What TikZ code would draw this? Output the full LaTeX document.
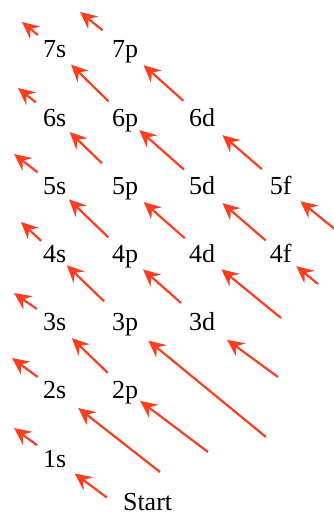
\documentclass[tikz,border=0pt]{standalone}
\usepackage{fontspec}
\setmainfont{Liberation Serif}
\usetikzlibrary{arrows.meta}
\definecolor{arrred}{RGB}{252,62,32}
\begin{document}
\begin{tikzpicture}[x=1pt,y=-1pt,
  lab/.style={inner sep=0pt, text height=17.6pt, text depth=0pt, font=\fontsize{26}{30}\selectfont},
  arr/.style={draw=arrred, line width=2.2pt, -{Stealth[length=17pt,width=16pt,inset=6pt]}}]
\useasboundingbox (0,0) rectangle (334,516);
% labels
\node[lab] (n7s) at (54.6,48.5) {7s};
\node[lab] (n7p) at (125,48.5) {7p};
\node[lab] (n6s) at (54.6,117.5) {6s};
\node[lab] (n6p) at (125,117.5) {6p};
\node[lab] (n6d) at (202,117.5) {6d};
\node[lab] (n5s) at (54.6,185.5) {5s};
\node[lab] (n5p) at (125,185.5) {5p};
\node[lab] (n5d) at (202,185.5) {5d};
\node[lab] (n5f) at (280.8,185.5) {5f};
\node[lab] (n4s) at (54.6,253.5) {4s};
\node[lab] (n4p) at (125,253.5) {4p};
\node[lab] (n4d) at (202,253.5) {4d};
\node[lab] (n4f) at (280.8,253.5) {4f};
\node[lab] (n3s) at (54.6,321.5) {3s};
\node[lab] (n3p) at (125,321.5) {3p};
\node[lab] (n3d) at (202,321.5) {3d};
\node[lab] (n2s) at (54.6,389.5) {2s};
\node[lab] (n2p) at (125,389.5) {2p};
\node[lab] (n1s) at (54.6,458.5) {1s};
\node[lab] (nStart) at (147.6,502) {Start};
% free ends
\coordinate (e1) at (14,428);
\coordinate (e2) at (12,358);
\coordinate (e3) at (14,293);
\coordinate (e4) at (21,222);
\coordinate (e5) at (14,154);
\coordinate (e6) at (18,88);
\coordinate (e7) at (22,22);
\coordinate (e7p) at (80,12);
\coordinate (b2) at (160,472);
\coordinate (b2p) at (208,452);
\coordinate (b3p) at (266,437);
\coordinate (b3d) at (278,377);
\coordinate (b4d) at (281,318);
\coordinate (b4f) at (318,284);
\coordinate (b5f) at (336,230);
% start
\draw[arr, shorten >=25pt] ([shift={(-16pt,4.5pt)}]nStart.west) -- (n1s.center);
% diagonal starts
\draw[arr, shorten >=30pt] (b2) -- (n2s.center);
\draw[arr, shorten >=19pt] (b2p) -- (n2p.center);
\draw[arr, shorten >=30pt] (b3p) -- (n3p.center);
\draw[arr, shorten >=31pt] (b3d) -- (n3d.center);
\draw[arr, shorten >=25pt] (b4d) -- (n4d.center);
\draw[arr, shorten >=20pt] (b4f) -- (n4f.center);
\draw[arr, shorten >=25pt] (b5f) -- (n5f.center);
% within diagonals
\draw[arr, shorten <=24pt, shorten >=24pt] (n2p.center) -- (n3s.center);
\draw[arr, shorten <=29pt, shorten >=17pt] (n3p.center) -- (n4s.center);
\draw[arr, shorten <=28pt, shorten >=24pt] (n3d.center) -- (n4p.center);
\draw[arr, shorten <=23pt, shorten >=20pt] (n4p.center) -- (n5s.center);
\draw[arr, shorten <=23pt, shorten >=25pt] (n4d.center) -- (n5p.center);
\draw[arr, shorten <=32pt, shorten >=21pt] (n5p.center) -- (n6s.center);
\draw[arr, shorten <=20pt, shorten >=27pt] (n4f.center) -- (n5d.center);
\draw[arr, shorten <=24pt, shorten >=19pt] (n5d.center) -- (n6p.center);
\draw[arr, shorten <=23pt, shorten >=23pt] (n6p.center) -- (n7s.center);
\draw[arr, shorten <=25pt, shorten >=27pt] (n5f.center) -- (n6d.center);
\draw[arr, shorten <=25pt, shorten >=25pt] (n6d.center) -- (n7p.center);
% diagonal ends
\draw[arr, shorten <=22pt] (n1s.center) -- (e1);
\draw[arr, shorten <=21pt] (n2s.center) -- (e2);
\draw[arr, shorten <=21.7pt] (n3s.center) -- (e3);
\draw[arr, shorten <=18.4pt] (n4s.center) -- (e4);
\draw[arr, shorten <=21.6pt] (n5s.center) -- (e5);
\draw[arr, shorten <=24pt] (n6s.center) -- (e6);
\draw[arr, shorten <=21.4pt] (n7s.center) -- (e7);
\draw[arr, shorten <=29pt] (n7p.center) -- (e7p);
\end{tikzpicture}
\end{document}
